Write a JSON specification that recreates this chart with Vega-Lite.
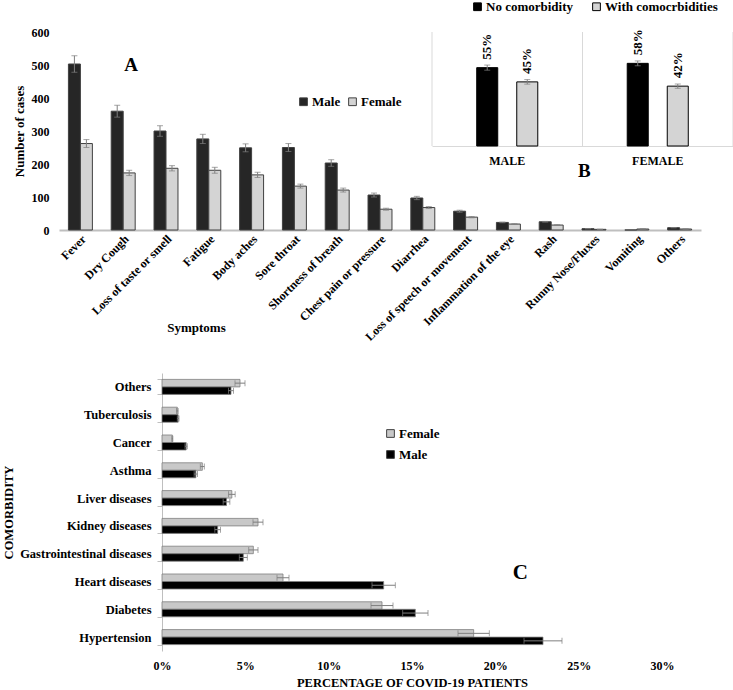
{
  "$schema": "https://vega.github.io/schema/vega-lite/v6.json",
  "padding": {"left": 2, "top": 0, "right": 0, "bottom": 0},
  "config": {
    "font": "Liberation Serif",
    "view": {"stroke": null},
    "axis": {"labelColor": "#000000", "titleColor": "#000000", "labelFont": "Liberation Serif", "titleFont": "Liberation Serif", "labelFontWeight": "bold", "titleFontWeight": "bold"},
    "legend": {"labelFont": "Liberation Serif", "labelColor": "#000000", "labelFontWeight": "bold", "padding": 0}
  },
  "vconcat": [
    {
      "width": 642,
      "height": 198,
      "layer": [
        {
          "data": {"values": [
            {"symptom": "Fever", "gender": "Male", "cases": 503, "lo": 478, "hi": 528},
            {"symptom": "Fever", "gender": "Female", "cases": 262, "lo": 250, "hi": 274},
            {"symptom": "Dry Cough", "gender": "Male", "cases": 360, "lo": 342, "hi": 378},
            {"symptom": "Dry Cough", "gender": "Female", "cases": 173, "lo": 165, "hi": 181},
            {"symptom": "Loss of taste or smell", "gender": "Male", "cases": 300, "lo": 284, "hi": 316},
            {"symptom": "Loss of taste or smell", "gender": "Female", "cases": 187, "lo": 179, "hi": 195},
            {"symptom": "Fatigue", "gender": "Male", "cases": 276, "lo": 262, "hi": 290},
            {"symptom": "Fatigue", "gender": "Female", "cases": 181, "lo": 172, "hi": 190},
            {"symptom": "Body aches", "gender": "Male", "cases": 249, "lo": 237, "hi": 261},
            {"symptom": "Body aches", "gender": "Female", "cases": 167, "lo": 159, "hi": 175},
            {"symptom": "Sore throat", "gender": "Male", "cases": 250, "lo": 238, "hi": 262},
            {"symptom": "Sore throat", "gender": "Female", "cases": 133, "lo": 127, "hi": 139},
            {"symptom": "Shortness of breath", "gender": "Male", "cases": 203, "lo": 193, "hi": 213},
            {"symptom": "Shortness of breath", "gender": "Female", "cases": 121, "lo": 115, "hi": 127},
            {"symptom": "Chest pain or pressure", "gender": "Male", "cases": 106, "lo": 100, "hi": 112},
            {"symptom": "Chest pain or pressure", "gender": "Female", "cases": 63, "lo": 60, "hi": 66},
            {"symptom": "Diarrhea", "gender": "Male", "cases": 97, "lo": 92, "hi": 102},
            {"symptom": "Diarrhea", "gender": "Female", "cases": 68, "lo": 65, "hi": 71},
            {"symptom": "Loss of speech or movement", "gender": "Male", "cases": 57, "lo": 54, "hi": 60},
            {"symptom": "Loss of speech or movement", "gender": "Female", "cases": 39, "lo": 37, "hi": 41},
            {"symptom": "Inflammation of the eye", "gender": "Male", "cases": 23, "lo": 22, "hi": 24},
            {"symptom": "Inflammation of the eye", "gender": "Female", "cases": 18, "lo": 17, "hi": 19},
            {"symptom": "Rash", "gender": "Male", "cases": 25, "lo": 24, "hi": 26},
            {"symptom": "Rash", "gender": "Female", "cases": 15, "lo": 14, "hi": 16},
            {"symptom": "Runny Nose/Fluxes", "gender": "Male", "cases": 4, "lo": 3.8, "hi": 4.2},
            {"symptom": "Runny Nose/Fluxes", "gender": "Female", "cases": 2, "lo": 1.9, "hi": 2.1},
            {"symptom": "Vomiting", "gender": "Male", "cases": 0, "lo": null, "hi": null},
            {"symptom": "Vomiting", "gender": "Female", "cases": 3, "lo": 2.85, "hi": 3.15},
            {"symptom": "Others", "gender": "Male", "cases": 7, "lo": 6.6, "hi": 7.4},
            {"symptom": "Others", "gender": "Female", "cases": 3, "lo": 2.85, "hi": 3.15}
          ]},
          "encoding": {
            "x": {
              "field": "symptom", "type": "nominal",
              "scale": {"domain": ["Fever", "Dry Cough", "Loss of taste or smell", "Fatigue", "Body aches", "Sore throat", "Shortness of breath", "Chest pain or pressure", "Diarrhea", "Loss of speech or movement", "Inflammation of the eye", "Rash", "Runny Nose/Fluxes", "Vomiting", "Others"], "paddingInner": 0.44, "paddingOuter": 0.22},
              "axis": {"orient": "bottom", "title": "Symptoms", "labelAngle": -45, "labelFontSize": 12, "labelPadding": 3, "labelOverlap": false, "ticks": false, "domainColor": "#bfbfbf", "domainWidth": 2, "titleFontSize": 13, "titleX": 137, "titleY": 91, "titleAlign": "center", "titleBaseline": "top"}
            },
            "xOffset": {"field": "gender", "type": "nominal", "scale": {"domain": ["Male", "Female"], "paddingInner": 0}}
          },
          "layer": [
            {
              "mark": {"type": "bar", "stroke": "#404040", "strokeWidth": 1},
              "encoding": {
                "y": {"field": "cases", "type": "quantitative", "scale": {"domain": [0, 600]},
                  "axis": {"title": "Number of cases", "values": [0, 100, 200, 300, 400, 500, 600], "labelOverlap": false, "domain": false, "ticks": false, "grid": false, "labelPadding": 10, "minExtent": 30, "maxExtent": 30, "titlePadding": 3, "labelFontSize": 12, "titleFontSize": 13}},
                "color": {"field": "gender", "type": "nominal", "scale": {"domain": ["Male", "Female"], "range": ["#262626", "#d4d4d4"]},
                  "legend": {"orient": "none", "legendX": 238, "legendY": 63, "direction": "horizontal", "title": null, "symbolType": "square", "symbolSize": 60, "symbolStrokeColor": "#404040", "symbolStrokeWidth": 1, "labelFontSize": 13, "labelOffset": 2, "columnPadding": 5}}
              }
            },
            {
              "mark": {"type": "rule", "color": "#7f7f7f", "strokeWidth": 1},
              "encoding": {"y": {"field": "lo", "type": "quantitative", "title": "Number of cases",
                  "axis": {"title": "Number of cases", "values": [0, 100, 200, 300, 400, 500, 600], "labelOverlap": false, "domain": false, "ticks": false, "grid": false, "labelPadding": 10, "minExtent": 30, "maxExtent": 30, "titlePadding": 3, "labelFontSize": 12, "titleFontSize": 13}}, "y2": {"field": "hi"}}
            },
            {
              "mark": {"type": "tick", "color": "#7f7f7f", "thickness": 1, "size": 6},
              "encoding": {"y": {"field": "lo", "type": "quantitative",
                  "axis": {"title": "Number of cases", "values": [0, 100, 200, 300, 400, 500, 600], "labelOverlap": false, "domain": false, "ticks": false, "grid": false, "labelPadding": 10, "minExtent": 30, "maxExtent": 30, "titlePadding": 3, "labelFontSize": 12, "titleFontSize": 13}}}
            },
            {
              "mark": {"type": "tick", "color": "#7f7f7f", "thickness": 1, "size": 6},
              "encoding": {"y": {"field": "hi", "type": "quantitative",
                  "axis": {"title": "Number of cases", "values": [0, 100, 200, 300, 400, 500, 600], "labelOverlap": false, "domain": false, "ticks": false, "grid": false, "labelPadding": 10, "minExtent": 30, "maxExtent": 30, "titlePadding": 3, "labelFontSize": 12, "titleFontSize": 13}}}
            },
            {
              "data": {"values": [{"symptom": "Dry Cough", "cases": 500, "t": "A"}]},
              "mark": {"type": "text", "fontSize": 19, "fontWeight": "bold", "dx": 8, "color": "#000000"},
              "encoding": {"xOffset": null, "y": {"field": "cases", "type": "quantitative",
                  "axis": {"title": "Number of cases", "values": [0, 100, 200, 300, 400, 500, 600], "labelOverlap": false, "domain": false, "ticks": false, "grid": false, "labelPadding": 10, "minExtent": 30, "maxExtent": 30, "titlePadding": 3, "labelFontSize": 12, "titleFontSize": 13}}, "text": {"field": "t"}}
            }
          ]
        },
        {
          "data": {"values": [{"pos": 0}, {"pos": 1}, {"pos": 2}]},
          "mark": {"type": "rule", "color": "#d9d9d9", "strokeWidth": 1},
          "encoding": {
            "x": {"field": "pos", "type": "quantitative", "scale": {"domain": [0, 2], "range": [373, 674]}, "axis": null},
            "y": {"datum": 0, "type": "quantitative", "scale": {"domain": [0, 80], "range": [114, 0]}, "axis": null},
            "y2": {"datum": 80}
          }
        },
        {
          "data": {"values": [
            {"g": "MALE", "c": "No comorbidity", "p": 55, "lo": 53.2, "hi": 56.8, "lab": "55%"},
            {"g": "MALE", "c": "With comocrbidities", "p": 45, "lo": 43.4, "hi": 46.6, "lab": "45%"},
            {"g": "FEMALE", "c": "No comorbidity", "p": 58, "lo": 56.3, "hi": 59.7, "lab": "58%"},
            {"g": "FEMALE", "c": "With comocrbidities", "p": 42, "lo": 40.5, "hi": 43.5, "lab": "42%"}
          ]},
          "encoding": {
            "x": {
              "field": "g", "type": "nominal",
              "scale": {"domain": ["MALE", "FEMALE"], "range": [373, 674], "paddingInner": 0.468, "paddingOuter": 0.234},
              "axis": {"orient": "bottom", "offset": -84, "title": null, "labelAngle": 0, "ticks": false, "domainColor": "#d9d9d9", "grid": false, "labelFontSize": 12, "labelPadding": 9}
            },
            "xOffset": {"field": "c", "type": "nominal", "scale": {"domain": ["No comorbidity", "With comocrbidities"], "paddingInner": 0.475, "paddingOuter": 0.2375}},
            "y": {"field": "p", "type": "quantitative", "scale": {"domain": [0, 80], "range": [114, 0]}, "axis": null}
          },
          "layer": [
            {
              "mark": {"type": "bar", "stroke": "#000000", "strokeWidth": 1},
              "encoding": {
                "color": {"field": "c", "type": "nominal", "scale": {"domain": ["No comorbidity", "With comocrbidities"], "range": ["#000000", "#d4d4d4"]},
                  "legend": {"orient": "none", "legendX": 412, "legendY": -32, "direction": "horizontal", "title": null, "symbolType": "square", "symbolSize": 60, "symbolStrokeColor": "#000000", "symbolStrokeWidth": 1, "labelFontSize": 13, "labelOffset": 2, "columnPadding": 16}}
              }
            },
            {
              "mark": {"type": "rule", "color": "#7f7f7f", "strokeWidth": 1},
              "encoding": {"y": {"field": "lo", "type": "quantitative", "axis": null}, "y2": {"field": "hi"}}
            },
            {
              "mark": {"type": "tick", "color": "#7f7f7f", "thickness": 1, "size": 6},
              "encoding": {"y": {"field": "lo", "type": "quantitative", "axis": null}}
            },
            {
              "mark": {"type": "tick", "color": "#7f7f7f", "thickness": 1, "size": 6},
              "encoding": {"y": {"field": "hi", "type": "quantitative", "axis": null}}
            },
            {
              "mark": {"type": "text", "angle": 270, "align": "left", "baseline": "middle", "dx": 8, "fontSize": 13, "fontWeight": "bold", "color": "#000000"},
              "encoding": {"text": {"field": "lab"}}
            },
            {
              "data": {"values": [{"g": "MALE", "p": -17.5, "t": "B"}]},
              "mark": {"type": "text", "fontSize": 19, "fontWeight": "bold", "dx": 77, "color": "#000000"},
              "encoding": {"xOffset": null, "text": {"field": "t"}}
            }
          ]
        }
      ],
      "resolve": {"scale": {"x": "independent", "y": "independent", "xOffset": "independent", "color": "independent"}}
    },
    {
      "width": 642,
      "height": 278,
      "data": {"values": [
        {"cond": "Others", "sex": "Female", "pct": 4.68, "lo": 4.38, "hi": 4.98},
        {"cond": "Others", "sex": "Male", "pct": 4.14, "lo": 3.99, "hi": 4.29},
        {"cond": "Tuberculosis", "sex": "Female", "pct": 0.92, "lo": 0.87, "hi": 0.97},
        {"cond": "Tuberculosis", "sex": "Male", "pct": 0.97, "lo": 0.92, "hi": 1.02},
        {"cond": "Cancer", "sex": "Female", "pct": 0.62, "lo": 0.59, "hi": 0.65},
        {"cond": "Cancer", "sex": "Male", "pct": 1.45, "lo": 1.38, "hi": 1.52},
        {"cond": "Asthma", "sex": "Female", "pct": 2.42, "lo": 2.3, "hi": 2.54},
        {"cond": "Asthma", "sex": "Male", "pct": 2.03, "lo": 1.93, "hi": 2.13},
        {"cond": "Liver diseases", "sex": "Female", "pct": 4.19, "lo": 3.99, "hi": 4.39},
        {"cond": "Liver diseases", "sex": "Male", "pct": 3.87, "lo": 3.67, "hi": 4.07},
        {"cond": "Kidney diseases", "sex": "Female", "pct": 5.76, "lo": 5.46, "hi": 6.06},
        {"cond": "Kidney diseases", "sex": "Male", "pct": 3.34, "lo": 3.17, "hi": 3.51},
        {"cond": "Gastrointestinal diseases", "sex": "Female", "pct": 5.48, "lo": 5.2, "hi": 5.76},
        {"cond": "Gastrointestinal diseases", "sex": "Male", "pct": 4.88, "lo": 4.64, "hi": 5.12},
        {"cond": "Heart diseases", "sex": "Female", "pct": 7.26, "lo": 6.9, "hi": 7.62},
        {"cond": "Heart diseases", "sex": "Male", "pct": 13.3, "lo": 12.6, "hi": 14.0},
        {"cond": "Diabetes", "sex": "Female", "pct": 13.2, "lo": 12.54, "hi": 13.86},
        {"cond": "Diabetes", "sex": "Male", "pct": 15.2, "lo": 14.44, "hi": 15.96},
        {"cond": "Hypertension", "sex": "Female", "pct": 18.7, "lo": 17.76, "hi": 19.64},
        {"cond": "Hypertension", "sex": "Male", "pct": 22.86, "lo": 21.72, "hi": 24.0}
      ]},
      "encoding": {
        "y": {
          "field": "cond", "type": "nominal",
          "scale": {"domain": ["Others", "Tuberculosis", "Cancer", "Asthma", "Liver diseases", "Kidney diseases", "Gastrointestinal diseases", "Heart diseases", "Diabetes", "Hypertension"], "paddingInner": 0.46, "paddingOuter": 0.23},
          "axis": {"title": "COMORBIDITY", "offset": -103, "tickBand": "extent", "tickSize": 5, "tickColor": "#bfbfbf", "domainColor": "#bfbfbf", "labelPadding": 6, "labelFontSize": 12.5, "titlePadding": 4, "titleFontSize": 12.5}
        },
        "yOffset": {"field": "sex", "type": "nominal", "scale": {"domain": ["Female", "Male"], "paddingInner": 0}}
      },
      "layer": [
        {
          "mark": {"type": "bar", "stroke": "#7f7f7f", "strokeWidth": 0.8},
          "encoding": {
            "x": {"field": "pct", "type": "quantitative", "scale": {"domain": [0, 30], "range": [103, 603]},
              "axis": {"values": [0, 5, 10, 15, 20, 25, 30], "labelExpr": "datum.value + '%'", "labelOverlap": false, "domain": false, "ticks": false, "grid": false, "labelFlush": false, "labelPadding": 9, "labelFontSize": 12, "title": "PERCENTAGE OF COVID-19 PATIENTS", "titlePadding": 5, "titleFontSize": 12.5}},
            "color": {"field": "sex", "type": "nominal", "scale": {"domain": ["Female", "Male"], "range": ["#c8c8c8", "#000000"]},
              "legend": {"orient": "none", "legendX": 325, "legendY": 54, "direction": "vertical", "title": null, "symbolType": "square", "symbolSize": 60, "symbolStrokeColor": "#404040", "symbolStrokeWidth": 1, "labelFontSize": 13, "labelOffset": 2, "rowPadding": 7}}
          }
        },
        {
          "mark": {"type": "rule", "color": "#7f7f7f", "strokeWidth": 1},
          "encoding": {"x": {"field": "lo", "type": "quantitative"}, "x2": {"field": "hi"}}
        },
        {
          "mark": {"type": "tick", "color": "#7f7f7f", "thickness": 1, "size": 6},
          "encoding": {"x": {"field": "lo", "type": "quantitative"}}
        },
        {
          "mark": {"type": "tick", "color": "#7f7f7f", "thickness": 1, "size": 6},
          "encoding": {"x": {"field": "hi", "type": "quantitative"}}
        },
        {
          "data": {"values": [{"cond": "Heart diseases", "pct": 21.5, "t": "C"}]},
          "mark": {"type": "text", "fontSize": 21, "fontWeight": "bold", "dy": -9, "color": "#000000"},
          "encoding": {"yOffset": null, "x": {"field": "pct", "type": "quantitative"}, "text": {"field": "t"}}
        }
      ]
    }
  ],
  "spacing": 24,
  "resolve": {"scale": {"color": "independent", "xOffset": "independent", "yOffset": "independent"}}
}
